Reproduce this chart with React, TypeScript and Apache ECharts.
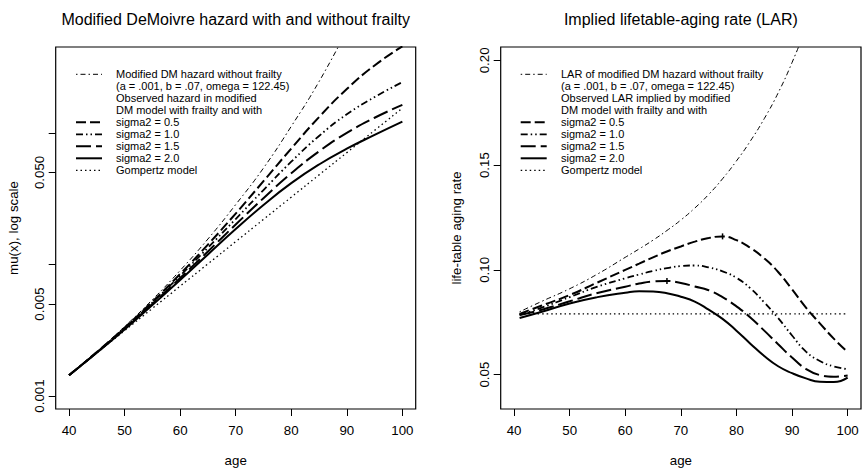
import React, { useEffect, useRef } from "react";
import * as echarts from "echarts";

// ---------- data ----------
const AGES_HAZARD = [40, 45, 50, 55, 60, 65, 70, 75, 80, 85, 90, 95, 100];
const HAZ_NO_FRAILTY = [0.00144, 0.00217, 0.00337, 0.0054, 0.009, 0.0156, 0.0285, 0.054, 0.112, 0.245, 0.6];
const HAZ_S05 = [0.00144, 0.00216, 0.00331, 0.00521, 0.00846, 0.01416, 0.02436, 0.0429, 0.076, 0.1317, 0.2152, 0.3252, 0.4538];
const HAZ_S10 = [0.00144, 0.00215, 0.00328, 0.00513, 0.00821, 0.01339, 0.02214, 0.03677, 0.06032, 0.09467, 0.1384, 0.187, 0.243];
const HAZ_S15 = [0.00144, 0.00214, 0.00324, 0.00501, 0.00788, 0.01256, 0.02011, 0.03188, 0.04921, 0.07232, 0.09983, 0.1302, 0.163];
const HAZ_S20 = [0.00144, 0.00213, 0.0032, 0.00491, 0.00763, 0.01192, 0.01857, 0.02829, 0.04145, 0.05748, 0.07572, 0.09652, 0.1218];
const HAZ_GOMPERTZ = [0.00144, 0.002126, 0.003138, 0.004632, 0.006837, 0.010093, 0.014898, 0.02199, 0.03246, 0.04792, 0.07073, 0.1044, 0.1541];

const AGES_LAR = [41, 45, 50, 55, 60, 62.5, 65, 67.5, 70, 72.5, 75, 77.5, 80, 82.5, 85, 87.5, 90, 92.5, 95, 97.5, 100];
const LAR_NO_FRAILTY = [0.08, 0.085, 0.091, 0.098, 0.106, 0.11, 0.1142, 0.1188, 0.1238, 0.1295, 0.136, 0.1435, 0.152, 0.1615, 0.1722, 0.1845, 0.199, 0.2158, 0.235, 0.257, 0.282];
const LAR_S05 = [0.079, 0.083, 0.088, 0.094, 0.1, 0.103, 0.106, 0.1088, 0.1112, 0.1135, 0.1152, 0.116, 0.1142, 0.1105, 0.1055, 0.099, 0.0907, 0.082, 0.0745, 0.0672, 0.0608];
const LAR_S10 = [0.0785, 0.082, 0.087, 0.092, 0.096, 0.0978, 0.0995, 0.1008, 0.1018, 0.1021, 0.1012, 0.0993, 0.0962, 0.0912, 0.0845, 0.077, 0.0687, 0.061, 0.0565, 0.0539, 0.0526];
const LAR_S15 = [0.0785, 0.081, 0.085, 0.089, 0.092, 0.0935, 0.0945, 0.0947, 0.0937, 0.0921, 0.0903, 0.087, 0.0826, 0.0773, 0.071, 0.0645, 0.0582, 0.0527, 0.0498, 0.049, 0.0496];
const LAR_S20 = [0.077, 0.08, 0.084, 0.087, 0.0891, 0.0898, 0.0897, 0.0889, 0.0872, 0.0849, 0.081, 0.0766, 0.071, 0.0648, 0.0589, 0.054, 0.0507, 0.0482, 0.0466, 0.0465, 0.0486];
const LAR_GOMPERTZ = [0.079, 0.079, 0.079, 0.079, 0.079, 0.079, 0.079, 0.079, 0.079, 0.079, 0.079, 0.079, 0.079, 0.079, 0.079, 0.079, 0.079, 0.079, 0.079, 0.079, 0.079];

const X_TICKS = [40, 50, 60, 70, 80, 90, 100];
const LOG_TICKS = [0.001, 0.005, 0.01, 0.05, 0.1];
const LOG_LABELS = [0.001, 0.005, 0.05];
const LAR_TICKS = [0.05, 0.1, 0.15, 0.2];

const TITLE_LEFT = "Modified DeMoivre hazard with and without frailty";
const TITLE_RIGHT = "Implied lifetable-aging rate (LAR)";

const LEGEND_LEFT = [
  "Modified DM hazard without frailty",
  "(a = .001, b = .07, omega = 122.45)",
  "Observed hazard in modified",
  "DM model with frailty and with",
  "sigma2 = 0.5",
  "sigma2 = 1.0",
  "sigma2 = 1.5",
  "sigma2 = 2.0",
  "Gompertz model",
];
const LEGEND_RIGHT = [
  "LAR of modified DM hazard without frailty",
  "(a = .001, b = .07, omega = 122.45)",
  "Observed LAR implied by modified",
  "DM model with frailty and with",
  "sigma2 = 0.5",
  "sigma2 = 1.0",
  "sigma2 = 1.5",
  "sigma2 = 2.0",
  "Gompertz model",
];

// ---------- styles ----------
const FONT = "'Liberation Sans', Arial, Helvetica, sans-serif";
const STY: Record<string, { width: number; type: any }> = {
  nf: { width: 1, type: [1.5, 3, 5, 3] },
  s05: { width: 2, type: [10, 4] },
  s10: { width: 1.8, type: [7, 3, 1.5, 3, 1.5, 3] },
  s15: { width: 2, type: [15, 5] },
  s20: { width: 2, type: "solid" },
  gz: { width: 1.3, type: [1.5, 3] },
};
// legend row -> style key (rows without a key are text only)
const LEGEND_KEYS = ["nf", null, null, null, "s05", "s10", "s15", "s20", "gz"];

const GRID_L = { left: 55.7, top: 47, width: 360, height: 362 };
const GRID_R = { left: 500.7, top: 47, width: 360.3, height: 362 };

function pairs(ages: number[], vals: number[]) {
  return vals.map((v, i) => [ages[i], v]);
}

function lineSeries(key: string, ages: number[], vals: number[], idx: number, markMax = false) {
  const s = STY[key];
  const ser: any = {
    type: "line",
    xAxisIndex: idx,
    yAxisIndex: idx,
    data: pairs(ages, vals),
    showSymbol: false,
    symbol: "none",
    smooth: 0.5,
    clip: true,
    lineStyle: { color: "#000", width: s.width, type: s.type, cap: "butt" },
    silent: true,
  };
  if (markMax) {
    ser.markPoint = {
      silent: true,
      symbol: "rect",
      symbolSize: [1.5, 6],
      itemStyle: { color: "#000" },
      label: { show: false },
      data: [{ type: "max" }],
    };
  }
  return ser;
}

function legendGraphics(x0: number, x1: number, xt: number, texts: string[]) {
  const els: any[] = [];
  texts.forEach((t, i) => {
    const y = 74.3 + i * 12;
    els.push({
      type: "text",
      x: xt,
      y,
      style: { text: t, font: `11px ${FONT}`, fill: "#000", verticalAlign: "middle", align: "left" },
    });
    const key = LEGEND_KEYS[i];
    if (key) {
      const s = STY[key];
      els.push({
        type: "line",
        shape: { x1: x0, y1: y, x2: x1, y2: y },
        style: {
          stroke: "#000",
          lineWidth: s.width,
          lineDash: Array.isArray(s.type) ? s.type : null,
          lineCap: "butt",
        },
      });
    }
  });
  return els;
}

const axisText = { fontFamily: FONT, fontSize: 13.3, color: "#000" };

function xAxisCfg(idx: number) {
  return {
    type: "value",
    gridIndex: idx,
    min: 37.6,
    max: 102.4,
    name: "age",
    nameLocation: "middle",
    nameGap: 45,
    nameTextStyle: { ...axisText },
    axisLine: { show: false },
    axisTick: { show: true, inside: false, length: 7, customValues: X_TICKS, lineStyle: { color: "#000", width: 1 } },
    axisLabel: { show: true, customValues: X_TICKS, margin: 15, ...axisText },
    splitLine: { show: false },
  };
}

export default function App() {
  const ref = useRef<HTMLDivElement>(null);
  useEffect(() => {
    if (!ref.current) return;
    const chart = echarts.init(ref.current, null, { renderer: "svg" });
    const option: any = {
      animation: false,
      backgroundColor: "#fff",
      textStyle: { fontFamily: FONT },
      title: [
        {
          text: TITLE_LEFT,
          left: GRID_L.left + GRID_L.width / 2,
          top: 11,
          textAlign: "center",
          padding: 0,
          textStyle: { fontFamily: FONT, fontSize: 16, fontWeight: "normal", color: "#000" },
        },
        {
          text: TITLE_RIGHT,
          left: GRID_R.left + GRID_R.width / 2,
          top: 11,
          textAlign: "center",
          padding: 0,
          textStyle: { fontFamily: FONT, fontSize: 16, fontWeight: "normal", color: "#000" },
        },
      ],
      grid: [
        { ...GRID_L, show: true, borderColor: "#000", borderWidth: 1.2, backgroundColor: "transparent", containLabel: false },
        { ...GRID_R, show: true, borderColor: "#000", borderWidth: 1.2, backgroundColor: "transparent", containLabel: false },
      ],
      xAxis: [xAxisCfg(0), xAxisCfg(1)],
      yAxis: [
        {
          type: "log",
          logBase: 10,
          gridIndex: 0,
          min: 0.000797,
          max: 0.449,
          name: "mu(x), log scale",
          nameLocation: "middle",
          nameGap: 36,
          nameTextStyle: { ...axisText },
          axisLine: { show: false },
          axisTick: { show: true, inside: false, length: 7, customValues: LOG_TICKS, lineStyle: { color: "#000", width: 1 } },
          axisLabel: {
            show: true,
            customValues: LOG_LABELS,
            rotate: 90,
            margin: 10,
            formatter: (v: number) => Number(v).toFixed(3),
            ...axisText,
          },
          splitLine: { show: false },
          minorTick: { show: false },
        },
        {
          type: "value",
          gridIndex: 1,
          min: 0.0336,
          max: 0.2064,
          name: "life-table aging rate",
          nameLocation: "middle",
          nameGap: 38,
          nameTextStyle: { ...axisText },
          axisLine: { show: false },
          axisTick: { show: true, inside: false, length: 7, customValues: LAR_TICKS, lineStyle: { color: "#000", width: 1 } },
          axisLabel: {
            show: true,
            customValues: LAR_TICKS,
            rotate: 90,
            margin: 10,
            formatter: (v: number) => Number(v).toFixed(2),
            ...axisText,
          },
          splitLine: { show: false },
        },
      ],
      series: [
        lineSeries("nf", AGES_HAZARD, HAZ_NO_FRAILTY, 0),
        lineSeries("s05", AGES_HAZARD, HAZ_S05, 0),
        lineSeries("s10", AGES_HAZARD, HAZ_S10, 0),
        lineSeries("s15", AGES_HAZARD, HAZ_S15, 0),
        lineSeries("s20", AGES_HAZARD, HAZ_S20, 0),
        lineSeries("gz", AGES_HAZARD, HAZ_GOMPERTZ, 0),
        lineSeries("nf", AGES_LAR, LAR_NO_FRAILTY, 1),
        lineSeries("s05", AGES_LAR, LAR_S05, 1, true),
        lineSeries("s10", AGES_LAR, LAR_S10, 1),
        lineSeries("s15", AGES_LAR, LAR_S15, 1, true),
        lineSeries("s20", AGES_LAR, LAR_S20, 1),
        lineSeries("gz", AGES_LAR, LAR_GOMPERTZ, 1),
      ],
      graphic: [
        ...legendGraphics(76, 102, 116, LEGEND_LEFT),
        ...legendGraphics(520.7, 546.7, 561, LEGEND_RIGHT),
      ],
    };
    chart.setOption(option);
    return () => chart.dispose();
  }, []);
  return (
    <div
      ref={ref}
      style={{ position: "fixed", left: 0, top: 0, width: 866, height: 472, background: "#fff" }}
    />
  );
}
